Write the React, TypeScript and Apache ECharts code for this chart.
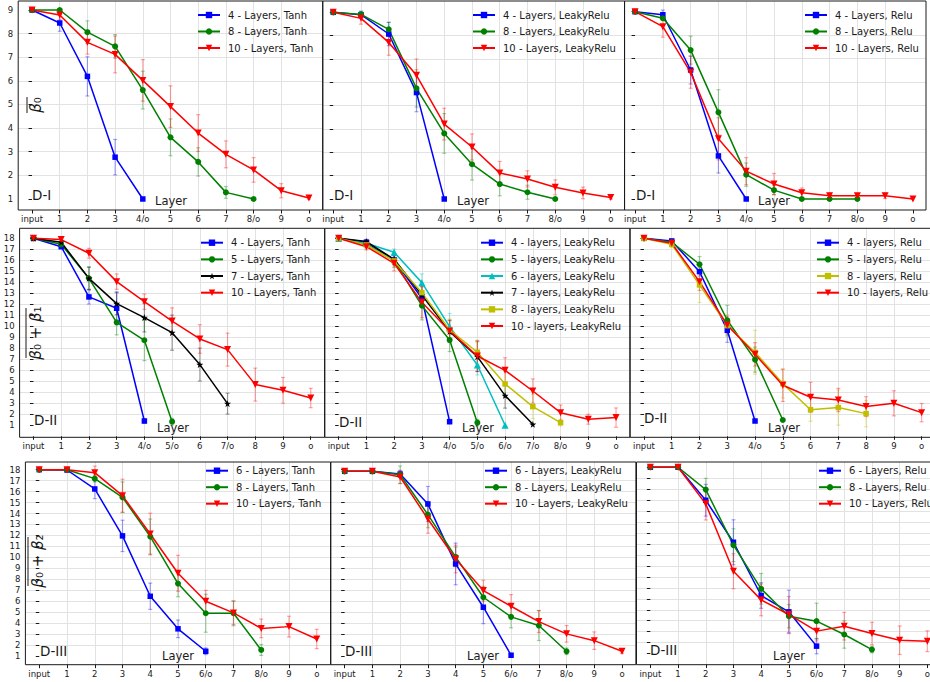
import React, { useEffect, useRef } from 'react';
import * as echarts from 'echarts';

// ---------- tick labels ----------
const layersRow1 = ['input', '1', '2', '3', '4/o', '5', '6', '7', '8/o', '9', 'o'];
const layersR2Tanh = ['input', '1', '2', '3', '4/o', '5/o', '6', '7/o', '8', '9', 'o'];
const layersR2Leaky = ['input', '1', '2', '3', '4/o', '5/o', '6/o', '7/o', '8/o', '9', 'o'];
const layersR2Relu = ['input', '1', '2', '3', '4/o', '5', '6', '7', '8', '9', 'o'];
const layersRow3 = ['input', '1', '2', '3', '4', '5', '6/o', '7', '8/o', '9', 'o'];
const yTicksRow1 = [1, 2, 3, 4, 5, 6, 7, 8, 9];
const yTicksRow23 = [1, 2, 3, 4, 5, 6, 7, 8, 9, 10, 11, 12, 13, 14, 15, 16, 17, 18];

// ---------- Row 1 (D-I) ----------
const r1Tanh4 = [9.0, 8.45, 6.19, 2.77, 1.0];
const r1Tanh4Err = [0, 0.35, 0.83, 0.75, 0];
const r1Tanh8 = [9.0, 9.0, 8.06, 7.46, 5.61, 3.61, 2.57, 1.28, 1.0];
const r1Tanh8Err = [0, 0.05, 0.48, 0.5, 0.8, 0.78, 0.6, 0.25, 0];
const r1Tanh10 = [9.0, 8.79, 7.63, 7.12, 6.02, 4.91, 3.79, 2.89, 2.23, 1.35, 1.04];
const r1Tanh10Err = [0, 0.2, 0.5, 0.78, 0.88, 0.88, 0.78, 0.57, 0.52, 0.3, 0.05];

const r1Leaky4 = [9.0, 8.9, 8.07, 5.56, 1.0];
const r1Leaky4Err = [0, 0.15, 0.5, 0.82, 0];
const r1Leaky8 = [9.0, 8.91, 8.27, 5.74, 3.81, 2.49, 1.64, 1.29, 1.0];
const r1Leaky8Err = [0, 0.1, 0.3, 0.8, 0.85, 0.68, 0.5, 0.3, 0];
const r1Leaky10 = [9.0, 8.74, 7.71, 6.3, 4.21, 3.23, 2.11, 1.86, 1.5, 1.26, 1.06];
const r1Leaky10Err = [0, 0.25, 0.55, 0.7, 0.68, 0.56, 0.5, 0.35, 0.32, 0.25, 0.07];

const r1Relu4 = [9.0, 8.87, 6.51, 2.84, 1.0];
const r1Relu4Err = [0, 0.2, 0.6, 0.73, 0];
const r1Relu8 = [9.0, 8.72, 7.36, 4.7, 2.04, 1.38, 1.0, 1.0, 1.0];
const r1Relu8Err = [0, 0.1, 0.6, 0.97, 0.5, 0.2, 0, 0, 0];
const r1Relu10 = [9.0, 8.36, 6.41, 3.57, 2.19, 1.64, 1.27, 1.14, 1.14, 1.14, 1.0];
const r1Relu10Err = [0, 0.45, 0.68, 0.9, 0.58, 0.45, 0.2, 0.12, 0.1, 0.12, 0];

// ---------- Row 2 (D-II) ----------
const r2Tanh4 = [18, 17.24, 12.67, 11.64, 1.39];
const r2Tanh4Err = [0, 0.2, 0.65, 1.5, 0.2];
const r2Tanh5 = [18, 17.45, 14.36, 10.36, 8.73, 1.33];
const r2Tanh5Err = [0, 0.2, 1.06, 1.14, 1.85, 0.3];
const r2Tanh7 = [18, 17.64, 14.36, 12.06, 10.79, 9.42, 6.52, 2.97];
const r2Tanh7Err = [0, 0.2, 1.0, 1.0, 1.3, 1.6, 1.5, 0.95];
const r2Tanh10 = [18, 17.88, 16.64, 14.06, 12.24, 10.48, 8.85, 7.88, 4.7, 4.18, 3.48];
const r2Tanh10Err = [0, 0.15, 0.45, 0.7, 0.7, 1.2, 1.3, 1.5, 1.5, 1.17, 0.88];

const r2Leaky4 = [18, 17.64, 16.03, 12.55, 1.33];
const r2Leaky4Err = [0, 0.2, 0.4, 0.6, 0.2];
const r2Leaky5 = [18, 17.45, 15.97, 11.88, 8.76, 1.24];
const r2Leaky5Err = [0, 0.2, 0.6, 1.3, 1.06, 0.3];
const r2Leaky6 = [18, 17.55, 16.73, 13.97, 9.97, 6.48, 1.0];
const r2Leaky6Err = [0, 0.2, 0.3, 0.8, 1.2, 0.9, 0];
const r2Leaky7 = [18, 17.7, 16.09, 12.85, 9.52, 7.24, 3.7, 1.09];
const r2Leaky7Err = [0, 0.2, 0.5, 0.8, 1.0, 1.36, 1.14, 0];
const r2Leaky8 = [18, 17.39, 15.94, 13.06, 9.67, 7.64, 4.76, 2.7, 1.24];
const r2Leaky8Err = [0, 0.3, 0.6, 0.7, 1.0, 1.1, 1.14, 1.1, 0.3];
const r2Leaky10 = [18, 17.24, 15.73, 12.18, 9.58, 7.3, 6.0, 4.12, 2.15, 1.55, 1.7];
const r2Leaky10Err = [0, 0.3, 0.7, 1.4, 1.0, 1.4, 1.14, 1.1, 0.7, 0.45, 0.88];

const r2Relu4 = [18, 17.76, 14.97, 9.64, 1.39];
const r2Relu4Err = [0, 0.15, 0.4, 1.1, 0];
const r2Relu5 = [18, 17.64, 15.64, 10.55, 6.97, 1.48];
const r2Relu5Err = [0, 0.2, 0.7, 1.36, 1.14, 0];
const r2Relu8 = [18, 17.45, 13.76, 10.06, 7.64, 4.79, 2.42, 2.61, 2.06];
const r2Relu8Err = [0, 0.3, 1.6, 1.0, 2.0, 1.3, 1.06, 1.6, 1.2];
const r2Relu10 = [18, 17.55, 14.06, 10.12, 7.45, 4.64, 3.55, 3.3, 2.7, 3.0, 2.15];
const r2Relu10Err = [0, 0.2, 0.8, 0.8, 1.06, 1.47, 1.36, 1.06, 0.9, 1.14, 0.83];

// ---------- Row 3 (D-III) ----------
const r3Tanh6 = [18, 17.97, 16.24, 11.96, 6.45, 3.48, 1.43];
const r3Tanh6Err = [0, 0.1, 0.88, 1.43, 1.2, 0.8, 0.3];
const r3Tanh8 = [18, 18, 17.18, 15.48, 11.9, 7.61, 4.9, 4.9, 1.55];
const r3Tanh8Err = [0, 0.05, 0.3, 1.4, 1.6, 1.2, 1.73, 1.14, 0.5];
const r3Tanh10 = [18, 18, 17.73, 15.63, 12.13, 8.55, 5.99, 4.93, 3.52, 3.68, 2.55];
const r3Tanh10Err = [0, 0.05, 0.6, 1.5, 1.9, 1.64, 1.0, 1.06, 0.85, 0.95, 0.88];

const r3Leaky6 = [17.85, 17.85, 17.6, 14.87, 9.4, 5.45, 1.07];
const r3Leaky6Err = [0, 0.1, 0.3, 1.6, 1.9, 1.5, 0];
const r3Leaky8 = [17.85, 17.85, 17.54, 13.9, 10.04, 6.36, 4.57, 3.78, 1.43];
const r3Leaky8Err = [0, 0.1, 0.8, 1.2, 0.9, 1.0, 1.0, 1.37, 0.3];
const r3Leaky10 = [17.85, 17.85, 17.33, 13.5, 9.85, 6.97, 5.54, 4.14, 3.02, 2.4, 1.43];
const r3Leaky10Err = [0, 0.1, 0.6, 1.3, 1.26, 0.95, 1.06, 1.0, 0.76, 0.8, 0.2];

const r3Relu6 = [18, 18, 14.99, 11.16, 6.3, 4.81, 1.68];
const r3Relu6Err = [0, 0.1, 1.45, 2.05, 1.17, 1.98, 0.7];
const r3Relu8 = [18, 18, 15.96, 10.89, 6.91, 4.41, 3.96, 2.74, 1.37];
const r3Relu8Err = [0, 0.1, 1.03, 1.5, 1.4, 1.06, 1.64, 1.25, 0.3];
const r3Relu10 = [18, 18, 14.66, 8.52, 5.9, 4.57, 3.05, 3.5, 2.83, 2.22, 2.13];
const r3Relu10Err = [0, 0.1, 1.47, 1.6, 1.45, 1.64, 0.9, 1.26, 1.03, 1.3, 0.95];

// ---------- styles ----------
const FONT = 'DejaVu Sans';
const INK = '#1a1a1a';
const GRIDC = '#e2e2e2';
const STAR = 'path://M50,0L61.2,34.5L97.6,34.5L68.2,55.9L79.4,90.5L50,69.1L20.6,90.5L31.8,55.9L2.4,34.5L38.8,34.5Z';
const TRI_DOWN = 'path://M0,0L100,0L50,90Z';
const TRI_UP = 'path://M50,0L100,90L0,90Z';

const STY: Record<string, { color: string; symbol: string; size: number }> = {
  b: { color: '#0000ff', symbol: 'rect', size: 5.5 },
  g: { color: '#008000', symbol: 'circle', size: 6 },
  r: { color: '#ff0000', symbol: TRI_DOWN, size: 7 },
  c: { color: '#00bfbf', symbol: TRI_UP, size: 7 },
  k: { color: '#000000', symbol: STAR, size: 7 },
  y: { color: '#bfbf00', symbol: 'rect', size: 5.5 },
};

type S = { name: string; s: string; v: number[]; e: number[] };
type Panel = {
  box: [number, number, number, number];
  x: [number, number];
  y: [number, number];
  cats: string[];
  yTicks: number[];
  yLabels: boolean;
  labelMargin: number;
  series: S[];
  legend: [number, number, number];
  dText: string;
  dPos: [number, number];
  layerPos: [number, number];
};

const panels: Panel[] = [
  {
    box: [18.2, 1, 304.6, 209], x: [-0.5, 10.5], y: [0.534, 9.381], cats: layersRow1, yTicks: yTicksRow1, yLabels: true, labelMargin: 4,
    series: [
      { name: '4 - Layers, Tanh', s: 'b', v: r1Tanh4, e: r1Tanh4Err },
      { name: '8 - Layers, Tanh', s: 'g', v: r1Tanh8, e: r1Tanh8Err },
      { name: '10 - Layers, Tanh', s: 'r', v: r1Tanh10, e: r1Tanh10Err },
    ],
    legend: [197, 10, 6.5], dText: 'D-I', dPos: [32, 195], layerPos: [155, 201],
  },
  {
    box: [322.7, 1, 301.9, 209], x: [-0.38, 10.5], y: [0.529, 9.484], cats: layersRow1, yTicks: yTicksRow1, yLabels: false, labelMargin: 4,
    series: [
      { name: '4 - Layers, LeakyRelu', s: 'b', v: r1Leaky4, e: r1Leaky4Err },
      { name: '8 - Layers, LeakyRelu', s: 'g', v: r1Leaky8, e: r1Leaky8Err },
      { name: '10 - Layers, LeakyRelu', s: 'r', v: r1Leaky10, e: r1Leaky10Err },
    ],
    legend: [472, 10, 6.5], dText: 'D-I', dPos: [334, 195], layerPos: [457, 201],
  },
  {
    box: [624.5, 1, 301.5, 209], x: [-0.38, 10.47], y: [0.53, 9.457], cats: layersRow1, yTicks: yTicksRow1, yLabels: false, labelMargin: 4,
    series: [
      { name: '4 - Layers, Relu', s: 'b', v: r1Relu4, e: r1Relu4Err },
      { name: '8 - Layers, Relu', s: 'g', v: r1Relu8, e: r1Relu8Err },
      { name: '10 - Layers, Relu', s: 'r', v: r1Relu10, e: r1Relu10Err },
    ],
    legend: [804, 10, 6.5], dText: 'D-I', dPos: [636, 195], layerPos: [758, 201],
  },
  {
    box: [19.6, 228.3, 305, 209], x: [-0.5, 10.5], y: [-0.091, 18.909], cats: layersR2Tanh, yTicks: yTicksRow23, yLabels: true, labelMargin: 4,
    series: [
      { name: '4 - Layers, Tanh', s: 'b', v: r2Tanh4, e: r2Tanh4Err },
      { name: '5 - Layers, Tanh', s: 'g', v: r2Tanh5, e: r2Tanh5Err },
      { name: '7 - Layers, Tanh', s: 'k', v: r2Tanh7, e: r2Tanh7Err },
      { name: '10 - Layers, Tanh', s: 'r', v: r2Tanh10, e: r2Tanh10Err },
    ],
    legend: [200, 237.7, 6.66], dText: 'D-II', dPos: [34, 420], layerPos: [157, 428],
  },
  {
    box: [324.8, 228.3, 305.1, 209], x: [-0.5, 10.5], y: [-0.091, 18.909], cats: layersR2Leaky, yTicks: yTicksRow23, yLabels: false, labelMargin: 4,
    series: [
      { name: '4 - layers, LeakyRelu', s: 'b', v: r2Leaky4, e: r2Leaky4Err },
      { name: '5 - layers, LeakyRelu', s: 'g', v: r2Leaky5, e: r2Leaky5Err },
      { name: '6 - layers, LeakyRelu', s: 'c', v: r2Leaky6, e: r2Leaky6Err },
      { name: '7 - layers, LeakyRelu', s: 'k', v: r2Leaky7, e: r2Leaky7Err },
      { name: '8 - layers, LeakyRelu', s: 'y', v: r2Leaky8, e: r2Leaky8Err },
      { name: '10 - layers, LeakyRelu', s: 'r', v: r2Leaky10, e: r2Leaky10Err },
    ],
    legend: [480, 237.7, 6.66], dText: 'D-II', dPos: [339, 422], layerPos: [462, 428],
  },
  {
    box: [630.1, 228.3, 305.4, 209], x: [-0.5, 10.5], y: [-0.091, 18.909], cats: layersR2Relu, yTicks: yTicksRow23, yLabels: false, labelMargin: 4,
    series: [
      { name: '4 - layers, Relu', s: 'b', v: r2Relu4, e: r2Relu4Err },
      { name: '5 - layers, Relu', s: 'g', v: r2Relu5, e: r2Relu5Err },
      { name: '8 - layers, Relu', s: 'y', v: r2Relu8, e: r2Relu8Err },
      { name: '10 - layers, Relu', s: 'r', v: r2Relu10, e: r2Relu10Err },
    ],
    legend: [816, 237.7, 6.66], dText: 'D-II', dPos: [644, 418], layerPos: [768, 428],
  },
  {
    box: [25.4, 462, 305.2, 202.7], x: [-0.5, 10.5], y: [0.206, 18.7], cats: layersRow3, yTicks: yTicksRow23, yLabels: true, labelMargin: 5,
    series: [
      { name: '6 - Layers, Tanh', s: 'b', v: r3Tanh6, e: r3Tanh6Err },
      { name: '8 - Layers, Tanh', s: 'g', v: r3Tanh8, e: r3Tanh8Err },
      { name: '10 - Layers, Tanh', s: 'r', v: r3Tanh10, e: r3Tanh10Err },
    ],
    legend: [205, 465.7, 6.5], dText: 'D-III', dPos: [40, 651], layerPos: [162, 656],
  },
  {
    box: [330.8, 462, 305.1, 202.7], x: [-0.5, 10.5], y: [0.206, 18.7], cats: layersRow3, yTicks: yTicksRow23, yLabels: false, labelMargin: 5,
    series: [
      { name: '6 - Layers, LeakyRelu', s: 'b', v: r3Leaky6, e: r3Leaky6Err },
      { name: '8 - Layers, LeakyRelu', s: 'g', v: r3Leaky8, e: r3Leaky8Err },
      { name: '10 - Layers, LeakyRelu', s: 'r', v: r3Leaky10, e: r3Leaky10Err },
    ],
    legend: [484, 465.7, 6.5], dText: 'D-III', dPos: [345, 651], layerPos: [467, 656],
  },
  {
    box: [636.5, 462, 304.7, 202.7], x: [-0.5, 10.5], y: [-0.013, 18.48], cats: layersRow3, yTicks: yTicksRow23, yLabels: false, labelMargin: 5,
    series: [
      { name: '6 - Layers, Relu', s: 'b', v: r3Relu6, e: r3Relu6Err },
      { name: '8 - Layers, Relu', s: 'g', v: r3Relu8, e: r3Relu8Err },
      { name: '10 - Layers, Relu', s: 'r', v: r3Relu10, e: r3Relu10Err },
    ],
    legend: [818, 465.7, 6.5], dText: 'D-III', dPos: [650, 650], layerPos: [773, 656],
  },
];

const yTitles = [
  { parts: ['β', '₀'], x: 36, y: 105, line: [27, 97, 113] },
  { parts: ['β', '₀ + ', 'β', '₁'], x: 36, y: 333, line: [26, 308, 358] },
  { parts: ['β', '₀ + ', 'β', '₂'], x: 38, y: 561, line: [28, 537, 586] },
];

const isInt = (v: number) => Math.abs(v - Math.round(v)) < 1e-6;

function errRenderer(color: string) {
  const stroke = echarts.color.modifyAlpha(color, 0.35);
  return (_params: any, api: any) => {
    const x = api.value(0);
    const lo = api.coord([x, api.value(1)]);
    const hi = api.coord([x, api.value(2)]);
    const c = 2;
    const style = { stroke, lineWidth: 1.2, fill: 'none' };
    return {
      type: 'group',
      children: [
        { type: 'line', shape: { x1: lo[0], y1: lo[1], x2: hi[0], y2: hi[1] }, style },
        { type: 'line', shape: { x1: lo[0] - c, y1: lo[1], x2: lo[0] + c, y2: lo[1] }, style },
        { type: 'line', shape: { x1: hi[0] - c, y1: hi[1], x2: hi[0] + c, y2: hi[1] }, style },
      ],
    };
  };
}

function buildOption() {
  const grid: any[] = [];
  const xAxis: any[] = [];
  const yAxis: any[] = [];
  const series: any[] = [];
  const legend: any[] = [];
  const graphic: any[] = [];

  panels.forEach((p, i) => {
    const [left, top, width, height] = p.box;
    grid.push({ left, top, width, height, show: false, containLabel: false, outerBoundsMode: 'none' });
    const xIdx = p.cats.map((_, k) => k);
    xAxis.push({
      type: 'value', gridIndex: i, min: p.x[0], max: p.x[1], minInterval: 1, maxInterval: 1, splitNumber: 11,
      axisLine: { show: false },
      axisTick: { show: true, inside: false, length: 3.5, lineStyle: { color: INK, width: 1 }, customValues: xIdx },
      axisLabel: {
        show: true, margin: p.labelMargin, fontSize: 8.5, color: INK, fontFamily: FONT, hideOverlap: false,
        customValues: xIdx,
        formatter: (v: number) => (isInt(v) && p.cats[Math.round(v)] !== undefined ? p.cats[Math.round(v)] : ''),
      },
      splitLine: { show: true, showMinLine: false, showMaxLine: false, lineStyle: { color: GRIDC, width: 1 } },
    });
    yAxis.push({
      type: 'value', gridIndex: i, min: p.y[0], max: p.y[1], minInterval: 1, maxInterval: 1,
      splitNumber: Math.round(p.y[1] - p.y[0]),
      axisLine: { show: false },
      axisTick: { show: true, inside: false, length: 3.5, lineStyle: { color: INK, width: 1 }, customValues: p.yTicks },
      axisLabel: {
        show: p.yLabels, margin: 5, fontSize: 8.5, color: INK, fontFamily: FONT, hideOverlap: false,
        customValues: p.yTicks,
        formatter: (v: number) => (isInt(v) && p.yTicks.includes(Math.round(v)) ? String(Math.round(v)) : ''),
      },
      splitLine: { show: true, showMinLine: false, showMaxLine: false, lineStyle: { color: GRIDC, width: 1 } },
    });

    p.series.forEach((s) => {
      const st = STY[s.s];
      series.push({
        type: 'custom', xAxisIndex: i, yAxisIndex: i, z: 2, silent: true, clip: false,
        data: s.v.map((v, k) => [k, v - s.e[k], v + s.e[k]]).filter((_, k) => s.e[k] > 0),
        renderItem: errRenderer(st.color),
      });
    });
    p.series.forEach((s) => {
      const st = STY[s.s];
      series.push({
        type: 'line', name: s.name, xAxisIndex: i, yAxisIndex: i, z: 3, clip: false, silent: true,
        data: s.v.map((v, k) => [k, v]),
        symbol: st.symbol, symbolSize: st.size, showSymbol: true,
        lineStyle: { color: st.color, width: 1.5 },
        itemStyle: { color: st.color },
        emphasis: { disabled: true },
      });
    });

    legend.push({
      data: p.series.map((s) => s.name), orient: 'vertical', left: p.legend[0], top: p.legend[1],
      itemWidth: 22, itemHeight: 8, itemGap: p.legend[2], padding: 0, selectedMode: false,
      textStyle: { fontSize: 10, color: INK, fontFamily: FONT, lineHeight: 8, padding: [0, 0, 0, 3] },
    });

    graphic.push({
      type: 'rect', z: 100, silent: true,
      shape: { x: left, y: top, width, height },
      style: { fill: 'none', stroke: INK, lineWidth: 1 },
    });
    graphic.push({
      type: 'text', z: 101, x: p.dPos[0], y: p.dPos[1],
      style: { text: p.dText, fontSize: 13.5, fontFamily: FONT, fill: INK, textAlign: 'left', textVerticalAlign: 'middle' },
    });
    graphic.push({
      type: 'text', z: 101, x: p.layerPos[0], y: p.layerPos[1],
      style: { text: 'Layer', fontSize: 11.5, fontFamily: FONT, fill: INK, textAlign: 'left', textVerticalAlign: 'middle' },
    });
  });

  yTitles.forEach((t) => {
    const text = t.parts.map((part, k) => (k % 2 === 0 ? `{g|${part}}` : `{n|${part}}`)).join('');
    graphic.push({
      type: 'text', z: 101, x: t.x, y: t.y, rotation: Math.PI / 2,
      style: {
        text, textAlign: 'center', textVerticalAlign: 'middle', fill: INK, fontFamily: FONT, fontSize: 15,
        rich: {
          g: { fontStyle: 'italic', fontSize: 15, fontFamily: FONT, fill: INK },
          n: { fontSize: 15, fontFamily: FONT, fill: INK },
        },
      },
    });
    graphic.push({
      type: 'line', z: 101, silent: true,
      shape: { x1: t.line[0], y1: t.line[1], x2: t.line[0], y2: t.line[2] },
      style: { stroke: INK, lineWidth: 1 },
    });
  });

  return {
    animation: false,
    backgroundColor: '#ffffff',
    textStyle: { fontFamily: FONT },
    grid, xAxis, yAxis, series, legend, graphic,
  };
}

export default function App() {
  const ref = useRef<HTMLDivElement>(null);
  useEffect(() => {
    document.body.style.margin = '0';
    const chart = echarts.init(ref.current as HTMLDivElement, null, { renderer: 'svg' });
    chart.setOption(buildOption() as any);
    return () => chart.dispose();
  }, []);
  return (
    <div
      ref={ref}
      style={{ position: 'absolute', left: 0, top: 0, width: 930, height: 682, background: '#fff' }}
    />
  );
}
